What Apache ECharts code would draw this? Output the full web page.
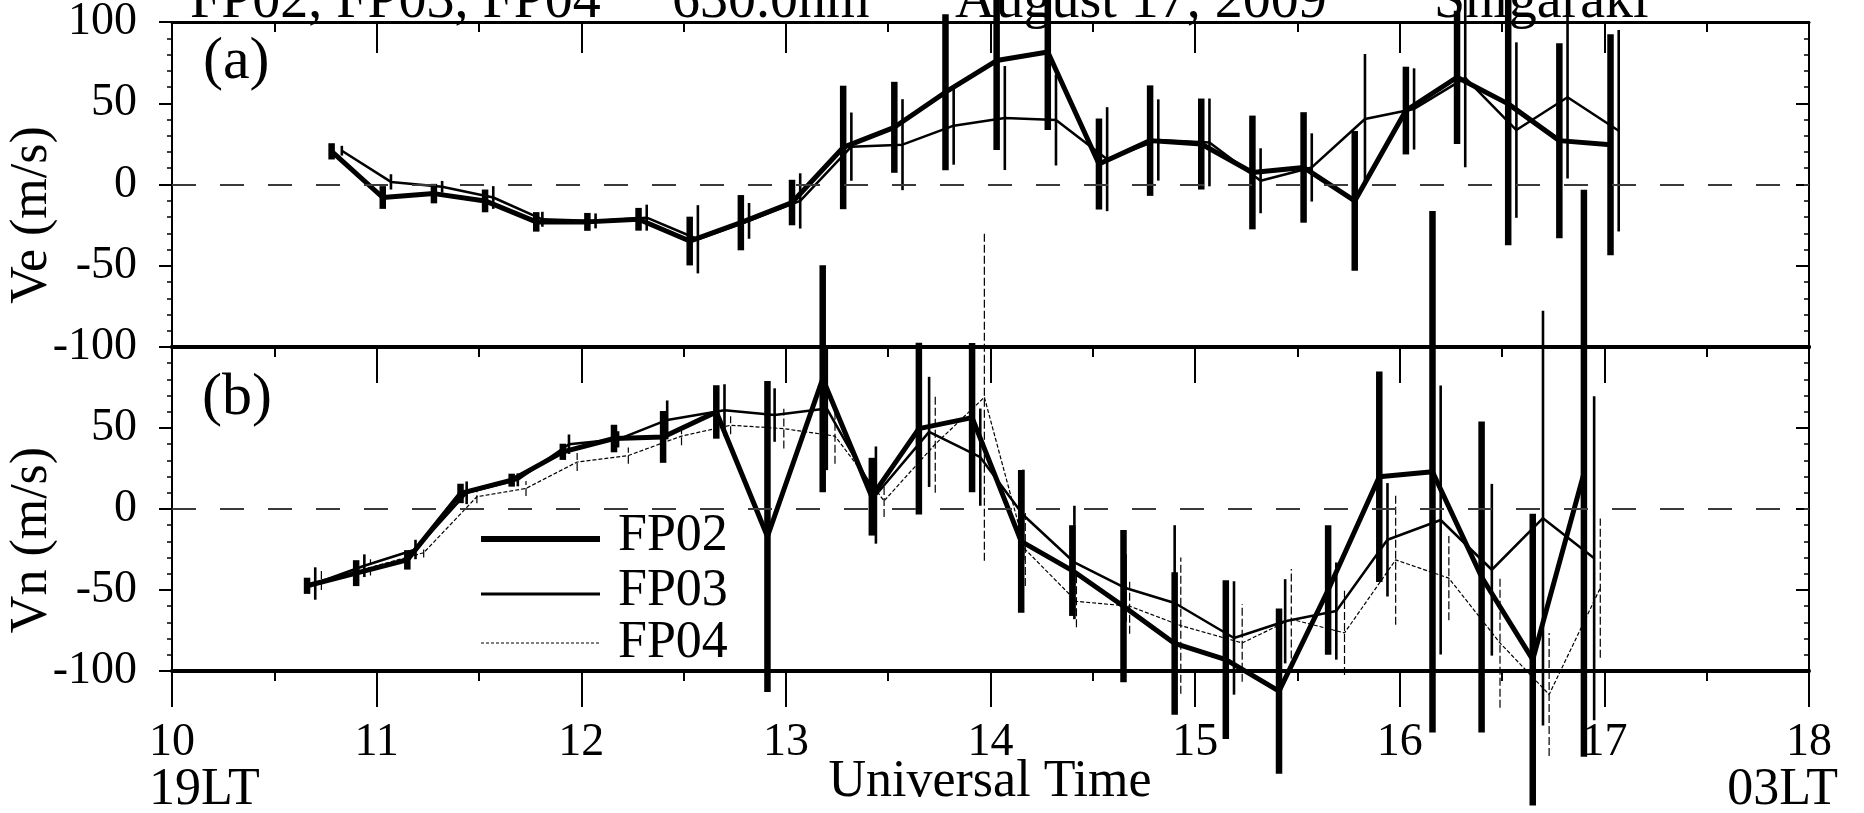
<!DOCTYPE html>
<html><head><meta charset="utf-8">
<script src="https://cdn.jsdelivr.net/npm/echarts@6/dist/echarts.min.js"></script>
<style>html,body{margin:0;padding:0;background:#fff}#c{width:1864px;height:813px}</style>
</head><body><div id="c"></div>
<script>
const FONT = '"Liberation Serif","Times New Roman",serif';
const xTickLabels = ['10','11','12','13','14','15','16','17','18'];
const yTickLabelsTop = ['-100','-50','0','50','100'];
const yTickLabelsBottom = ['-100','-50','0','50'];
const legendNames = ['FP02','FP03','FP04'];
const titleParts = ['FP02, FP03, FP04', '630.0nm', 'August 17, 2009', 'Shigaraki'];

// Panel (a): Ve (m/s)
const veTimeFP02 = [10.78,11.03,11.28,11.53,11.78,12.03,12.28,12.53,12.78,13.03,13.28,13.53,13.78,14.03,14.28,14.53,14.78,15.03,15.28,15.53,15.78,16.03,16.28,16.53,16.78,17.03];
const veFP02     = [20.4,-8.0,-5.6,-10.1,-23.0,-23.0,-21.4,-34.8,-23.5,-11.1,22.8,35.2,56.8,76.3,81.5,12.6,27.0,24.9,7.4,10.5,-10.1,45.5,66.0,49.6,27.0,24.5];
const veErrFP02  = [5,7,6,7,6,5.5,7,15,17,14,38,28,48,55,48,28,34,28,35,34,43,27,41,87,60,68];
const veTimeFP03 = [10.83,11.07,11.32,11.57,11.81,12.07,12.32,12.57,12.82,13.07,13.32,13.57,13.82,14.07,14.32,14.57,14.82,15.07,15.32,15.57,15.83,16.07,16.32,16.57,16.82,17.07];
const veFP03     = [20.8,1.6,-1.4,-8.0,-21.4,-22.4,-20.4,-33.7,-22.4,-10.1,23.3,24.5,36.2,40.9,39.7,15.6,27.4,25.9,2.3,10.5,40.3,46.5,65.6,33.5,53.7,33.1];
const veErrFP03  = [3,4.7,3.6,7,4.6,4.6,8,21,11,17,21,28,24,32,28,32,25,27,20,21,40,25,55,54,50,62];

// Panel (b): Vn (m/s)
const vnTimeFP02 = [10.66,10.90,11.15,11.41,11.66,11.91,12.16,12.40,12.66,12.91,13.18,13.42,13.65,13.91,14.15,14.40,14.65,14.90,15.15,15.41,15.65,15.90,16.16,16.40,16.65,16.90];
const vnFP02     = [-47.4,-39.6,-31.4,9.6,17.8,35.3,43.5,44.5,59.9,-17.0,80.4,7.6,49.6,56.4,-20.0,-38.0,-60.0,-83.0,-93.0,-112.4,-50.0,19.9,23.0,-42.0,-93.0,22.0];
const vnErrFP02  = [5,8,6,6,4,5,8.5,16,16.5,96,70,24,53,46,44,28,47,44,49,51,40,65,161,96,90,175];
const vnTimeFP03 = [10.70,10.94,11.19,11.44,11.69,11.94,12.18,12.42,12.70,12.945,13.20,13.44,13.70,13.95,14.16,14.41,14.66,14.90,15.19,15.44,15.69,15.94,16.20,16.45,16.70,16.95];
const vnFP03     = [-46,-35,-25,10,18,40,43,55,61,58,62,8.6,47.6,32,-3.7,-33,-48.8,-58,-79.6,-69.3,-63,-19,-6.8,-37.5,-5.7,-30.4];
const vnErrFP03  = [10,7,6,7,4,6,5,12,16,16.5,38,30,34,30,28,35,21,48,35,26,30,35,83,53,128,100];
const vnTimeFP04 = [10.73,10.97,11.23,11.49,11.73,11.98,12.23,12.49,12.73,12.99,13.24,13.48,13.73,13.97,14.17,14.42,14.68,14.93,15.23,15.47,15.73,15.98,16.24,16.49,16.73,16.98];
const vnFP04     = [-44,-36,-27,7.6,12.7,29,33,45,51.7,49.6,45,5,40,69,-25,-57,-60,-72,-82.7,-68,-76.5,-31.4,-42.7,-82.7,-114.5,-48.8];
const vnErrFP04  = [6,5,3,4,4.6,5.6,5,5.6,5.6,12.3,17,10,30,101,22.5,16,17,42,24,31,26,40,26,40,38,43];

const STY = {
  FP02: {line: 5, bar: 6.5, dash: null, barDash: null},
  FP03: {line: 2.5, bar: 2.6, dash: null, barDash: null},
  FP04: {line: 1.2, bar: 1.2, dash: [4, 2], barDash: [8, 3]}
};

const chart = echarts.init(document.getElementById('c'), null, {renderer: 'canvas'});

function lineSeries(name, xi, yi, times, vals, withZero) {
  const s = {
    type: 'line', name, xAxisIndex: xi, yAxisIndex: yi,
    data: times.map((t, i) => [t, vals[i]]),
    symbol: 'none', clip: false, z: 4, silent: true,
    lineStyle: {color: '#000', width: STY[name].line, type: STY[name].dash || 'solid'}
  };
  if (withZero) {
    s.markLine = {silent: true, symbol: 'none', label: {show: false}, animation: false,
      lineStyle: {type: [24, 24], color: '#3a3a3a', width: 2}, data: [{yAxis: 0}]};
  }
  return s;
}
function errSeries(name, xi, yi, times, vals, errs) {
  const st = STY[name];
  return {
    type: 'custom', name: name + ' err', xAxisIndex: xi, yAxisIndex: yi, clip: false, z: 3, silent: true,
    data: times.map((t, i) => [t, vals[i] - errs[i], vals[i] + errs[i]]),
    encode: {x: 0, y: [1, 2]},
    renderItem: function (params, api) {
      const p1 = api.coord([api.value(0), api.value(1)]);
      const p2 = api.coord([api.value(0), api.value(2)]);
      const style = {stroke: '#000', lineWidth: st.bar};
      if (st.barDash) style.lineDash = st.barDash;
      return {type: 'line', shape: {x1: p1[0], y1: p1[1], x2: p2[0], y2: p2[1]}, style};
    }
  };
}

const tickLine = {color: '#000', width: 2};
const xBase = {type: 'value', min: 10, max: 18, interval: 1, splitLine: {show: false}};
const yBase = {type: 'value', min: -100, max: 100, interval: 50, splitLine: {show: false}};

function yAxisDef(grid, pos, labels) {
  return Object.assign({}, yBase, {
    gridIndex: grid, position: pos,
    axisLine: {show: true, onZero: false, lineStyle: {color: '#000', width: 2}},
    axisTick: {show: true, inside: pos === 'right', length: 13, lineStyle: tickLine},
    minorTick: {show: true, splitNumber: 5, length: 5, lineStyle: {color: '#000', width: 1.5}},
    axisLabel: labels ? {show: true, margin: 35, fontSize: 46, fontFamily: FONT, color: '#000',
      formatter: v => labels.includes(String(v)) ? String(v) : ''} : {show: false}
  });
}

function txt(text, x, y, size, align, rot) {
  const el = {type: 'text', x, y, z: 100, style: {text, fontSize: size, fontFamily: FONT, fill: '#000', align: align || 'left', verticalAlign: 'middle'}};
  if (rot) el.rotation = rot;
  return el;
}

const option = {
  animation: false,
  backgroundColor: '#fff',
  grid: [
    {left: 172, top: 22, width: 1637, height: 325, containLabel: false, outerBoundsMode: 'none'},
    {left: 172, top: 347, width: 1637, height: 324, containLabel: false, outerBoundsMode: 'none'}
  ],
  xAxis: [
    Object.assign({}, xBase, {gridIndex: 0, position: 'top',
      axisLine: {onZero: false, lineStyle: {color: '#000', width: 3}},
      axisTick: {inside: true, length: 31, lineStyle: tickLine},
      minorTick: {show: true, splitNumber: 2, length: 10, lineStyle: tickLine},
      axisLabel: {show: false}}),
    Object.assign({}, xBase, {gridIndex: 0, position: 'bottom',
      axisLine: {onZero: false, lineStyle: {color: '#000', width: 4}},
      axisTick: {show: false}, axisLabel: {show: false}}),
    Object.assign({}, xBase, {gridIndex: 1, position: 'top',
      axisLine: {onZero: false, lineStyle: {color: '#000', width: 4}},
      axisTick: {inside: true, length: 36, lineStyle: tickLine},
      minorTick: {show: true, splitNumber: 2, length: 10, lineStyle: tickLine},
      axisLabel: {show: false}}),
    Object.assign({}, xBase, {gridIndex: 1, position: 'bottom',
      axisLine: {onZero: false, lineStyle: {color: '#000', width: 4}},
      axisTick: {inside: false, length: 36, lineStyle: tickLine},
      minorTick: {show: true, splitNumber: 2, length: 10, lineStyle: tickLine},
      axisLabel: {show: true, margin: 49, fontSize: 46, fontFamily: FONT, color: '#000',
        formatter: v => xTickLabels[Math.round(v - 10)] || ''}})
  ],
  yAxis: [
    yAxisDef(0, 'left', yTickLabelsTop),
    yAxisDef(0, 'right', null),
    yAxisDef(1, 'left', yTickLabelsBottom),
    yAxisDef(1, 'right', null)
  ],
  series: [
    errSeries('FP02', 0, 0, veTimeFP02, veFP02, veErrFP02),
    errSeries('FP03', 0, 0, veTimeFP03, veFP03, veErrFP03),
    lineSeries('FP02', 0, 0, veTimeFP02, veFP02, true),
    lineSeries('FP03', 0, 0, veTimeFP03, veFP03, false),
    errSeries('FP02', 3, 2, vnTimeFP02, vnFP02, vnErrFP02),
    errSeries('FP03', 3, 2, vnTimeFP03, vnFP03, vnErrFP03),
    errSeries('FP04', 3, 2, vnTimeFP04, vnFP04, vnErrFP04),
    lineSeries('FP02', 3, 2, vnTimeFP02, vnFP02, true),
    lineSeries('FP03', 3, 2, vnTimeFP03, vnFP03, false),
    lineSeries('FP04', 3, 2, vnTimeFP04, vnFP04, false)
  ],
  graphic: [
    txt(titleParts[0], 190, 2, 56),
    txt(titleParts[1], 672, 2, 56),
    txt(titleParts[2], 955, 2, 56),
    txt(titleParts[3], 1434, 2, 56),
    txt('Ve (m/s)', 32, 215, 52, 'center', Math.PI / 2),
    txt('Vn (m/s)', 32, 540, 52, 'center', Math.PI / 2),
    txt('Universal Time', 990, 782, 52, 'center'),
    txt('(a)', 203, 62, 60),
    txt('(b)', 202, 398, 60),
    txt('19LT', 149, 790, 52),
    txt('03LT', 1838, 790, 52, 'right'),
    // legend
    {type: 'line', z: 100, shape: {x1: 481, y1: 539, x2: 600, y2: 539}, style: {stroke: '#000', lineWidth: 6}},
    {type: 'line', z: 100, shape: {x1: 481, y1: 594, x2: 600, y2: 594}, style: {stroke: '#000', lineWidth: 3}},
    {type: 'line', z: 100, shape: {x1: 481, y1: 643, x2: 600, y2: 643}, style: {stroke: '#000', lineWidth: 1.2, lineDash: [3, 2]}},
    txt(legendNames[0], 618, 536, 52),
    txt(legendNames[1], 618, 591, 52),
    txt(legendNames[2], 618, 643, 52)
  ]
};
chart.setOption(option);
</script>
</body></html>
